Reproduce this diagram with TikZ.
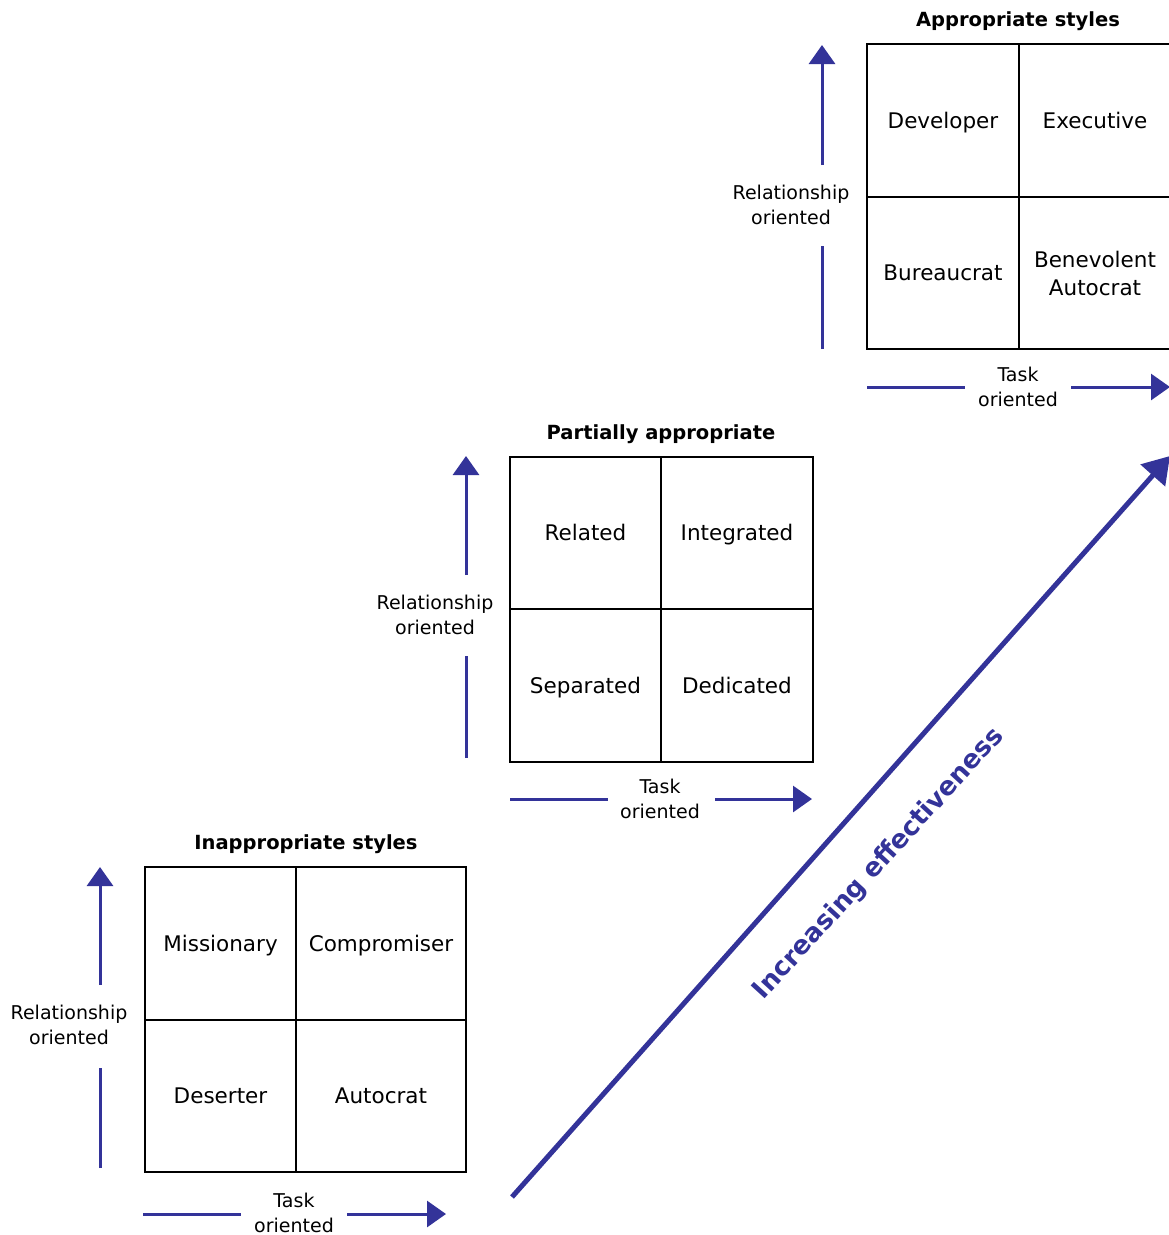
\documentclass[tikz,border=0pt]{standalone}
\usepackage{fontspec}
\setmainfont{DejaVu Sans}
\usetikzlibrary{arrows.meta}
\definecolor{axisblue}{HTML}{333399}
\tikzset{
  cell/.style={draw=black, line width=2pt, minimum width=151.5pt, minimum height=152.5pt,
    inner sep=0pt, align=center, text height=16pt, text depth=1pt,
    font=\fontsize{21.5}{28}\selectfont},
  widecell/.style={cell, minimum width=170pt},
  ttl/.style={font=\fontsize{19.5}{24}\selectfont\bfseries},
  axlabel/.style={align=center, inner sep=0pt, font=\fontsize{19}{24.5}\selectfont},
  axline/.style={draw=axisblue, line width=3pt},
  axarrow/.style={draw=axisblue, line width=3pt, -{Triangle[width=26pt,length=19pt]}},
  diag/.style={draw=axisblue, line width=5pt, -{Triangle[width=32pt,length=26pt]}},
  diaglabel/.style={text=axisblue, font=\fontsize{26}{30}\selectfont\bfseries, rotate=47.6, inner sep=0pt}
}
\begin{document}
\begin{tikzpicture}[x=1pt,y=-1pt]
\useasboundingbox (0,0) rectangle (1169,1235);
\clip (0,0) rectangle (1169,1235);

% ---------- Box 3 (Inappropriate styles) ----------
\node[cell] (c3a) at (220.5,943.5) {Missionary};
\node[widecell] (c3b) at (381,943.5) {Compromiser};
\node[cell] (c3c) at (220.5,1096) {Deserter};
\node[widecell] (c3d) at (381,1096) {Autocrat};
\node[ttl] (t3) at (306,844) {Inappropriate styles};

\node[axlabel] (r3) at (69,1025) {Relationship\\oriented};
\coordinate (r3s) at (100,1168);
\coordinate (r3b) at (100,1068);
\coordinate (r3t) at (100,985);
\coordinate (r3e) at (100,867);
\draw[axline] (r3s) -- (r3b);
\draw[axarrow] (r3t) -- (r3e);

\node[axlabel] (k3) at (294,1213) {Task\\oriented};
\coordinate (k3s) at (143,1214);
\coordinate (k3b) at (241,1214);
\coordinate (k3t) at (347,1214);
\coordinate (k3e) at (446,1214);
\draw[axline] (k3s) -- (k3b);
\draw[axarrow] (k3t) -- (k3e);

% ---------- Box 2 (Partially appropriate) ----------
\node[cell] (c2a) at (585.5,533) {Related};
\node[cell] (c2b) at (737,533) {Integrated};
\node[cell] (c2c) at (585.5,685.5) {Separated};
\node[cell] (c2d) at (737,685.5) {Dedicated};
\node[ttl] (t2) at (661,434) {Partially appropriate};

\node[axlabel] (r2) at (435,615) {Relationship\\oriented};
\coordinate (r2s) at (466,758);
\coordinate (r2b) at (466,656);
\coordinate (r2t) at (466,575);
\coordinate (r2e) at (466,456);
\draw[axline] (r2s) -- (r2b);
\draw[axarrow] (r2t) -- (r2e);

\node[axlabel] (k2) at (660,799) {Task\\oriented};
\coordinate (k2s) at (510,799);
\coordinate (k2b) at (608,799);
\coordinate (k2t) at (715,799);
\coordinate (k2e) at (812,799);
\draw[axline] (k2s) -- (k2b);
\draw[axarrow] (k2t) -- (k2e);

% ---------- Box 1 (Appropriate styles) ----------
\node[cell] (c1a) at (943,120.5) {Developer};
\node[cell] (c1b) at (1095,120.5) {Executive};
\node[cell] (c1c) at (943,273) {Bureaucrat};
\node[cell, text height=, text depth=] (c1d) at (1095,273) {Benevolent\\Autocrat};
\node[ttl] (t1) at (1018,21) {Appropriate styles};

\node[axlabel] (r1) at (791,205) {Relationship\\oriented};
\coordinate (r1s) at (822,349);
\coordinate (r1b) at (822,246);
\coordinate (r1t) at (822,165);
\coordinate (r1e) at (822,45);
\draw[axline] (r1s) -- (r1b);
\draw[axarrow] (r1t) -- (r1e);

\node[axlabel] (k1) at (1018,387) {Task\\oriented};
\coordinate (k1s) at (867,387);
\coordinate (k1b) at (965,387);
\coordinate (k1t) at (1071,387);
\coordinate (k1e) at (1170,387);
\draw[axline] (k1s) -- (k1b);
\draw[axarrow] (k1t) -- (k1e);

% ---------- Diagonal ----------
\coordinate (ds) at (512,1197);
\coordinate (de) at (1170,456);
\draw[diag] (ds) -- (de);
\node[diaglabel] (dl) at (879,864) {Increasing effectiveness};
\end{tikzpicture}
\end{document}
